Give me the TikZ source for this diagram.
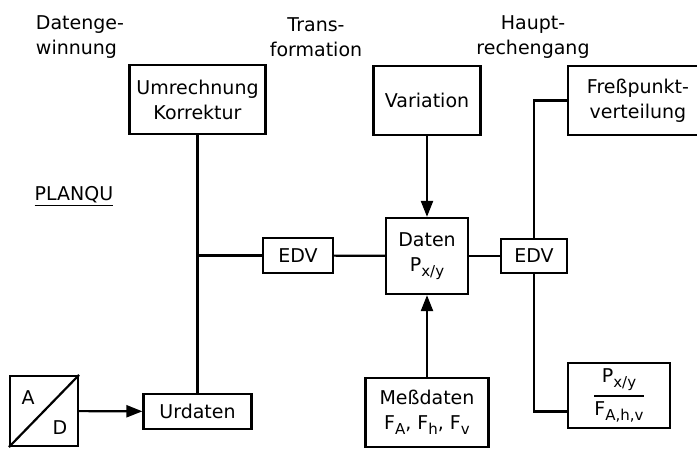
\documentclass[tikz,border=0pt]{standalone}
\usepackage{amsmath}
\usepackage{fontspec}
\setmainfont{DejaVu Sans}
\usetikzlibrary{arrows.meta}

% lowered, slightly smaller index
\newcommand{\tief}[1]{\raisebox{-5pt}{\fontsize{15}{15}\selectfont #1}}

\begin{document}
\begin{tikzpicture}[
x=1pt, y=-1pt,
every node/.style={
align=center,
inner sep=0pt,
font=\fontsize{19}{25}\selectfont
},
arrow/.style={-{Triangle[length=16pt,width=12pt]}, line width=2.2pt},
line/.style={line width=2.2pt}
]

% =====================================================
% Styles
% =====================================================

\tikzstyle{box} =
[rectangle,
draw=black,
line width=2.2pt]

\tikzstyle{heading} =
[text=black]

\useasboundingbox (0,0) rectangle (697,461);

% =====================================================
% Headings
% =====================================================

\node (gewinnung) [heading, align=left] at (80,37)
{Datenge-\\winnung};

\node (transformation) [heading] at (316,37)
{Trans-\\formation};

\node (hauptgang) [heading] at (533,37)
{Haupt-\\rechengang};

\node (planqu) [heading] at (74,196)
{\underline{PLANQU}};

% =====================================================
% Nodes
% =====================================================

\node (umrechnung) [box, minimum width=136, minimum height=69] at (197.5,99.5)
{Umrechnung\\Korrektur};

\node (variation) [box, minimum width=107, minimum height=69] at (427,100.5)
{Variation};

\node (fresspunkt) [box, minimum width=140, minimum height=69] at (638,100.5)
{Freßpunkt-\\verteilung};

\node (edvlinks) [box, minimum width=70, minimum height=35] at (298,255.5)
{EDV};

\node (daten) [box, minimum width=82, minimum height=76] at (427,256)
{Daten\\P\tief{x/y}};

\node (edvrechts) [box, minimum width=66, minimum height=34] at (534,256)
{EDV};

\node (wandler) [box, minimum width=68, minimum height=70] at (44,411)
{};

\node (wandlerA) at ([shift={(-16,-13)}]wandler.center)
{A};

\node (wandlerD) at ([shift={(16,17)}]wandler.center)
{D};

\node (urdaten) [box, minimum width=108, minimum height=35] at (197.5,411.5)
{Urdaten};

\node (messdaten) [box, minimum width=123, minimum height=69] at (427,412.5)
{Meßdaten\\F\tief{A}, F\tief{h}, F\tief{v}};

\node (ergebnis) [box, minimum width=102, minimum height=65] at (619,395.5)
{$\genfrac{}{}{1.5pt}{0}{\text{P\tief{x/y}}}{\text{F\tief{A,h,v}}}$};

% =====================================================
% Arrows
% =====================================================

\draw [line] (wandler.south west) -- (wandler.north east);

\draw [arrow] (wandler) -- (urdaten);

\draw [line] (urdaten) -- (umrechnung);

\draw [line] (edvlinks.west) -- (edvlinks.west -| urdaten.north);

\draw [line] (edvlinks) -- (daten);

\draw [arrow] (variation) -- (daten);

\draw [arrow] (messdaten) -- (daten);

\draw [line] (daten) -- (edvrechts);

\draw [line] (edvrechts.north) |- (fresspunkt.west);

\draw [line] (edvrechts.south) |- ([yshift=-16pt]ergebnis.west);

\end{tikzpicture}
\end{document}
